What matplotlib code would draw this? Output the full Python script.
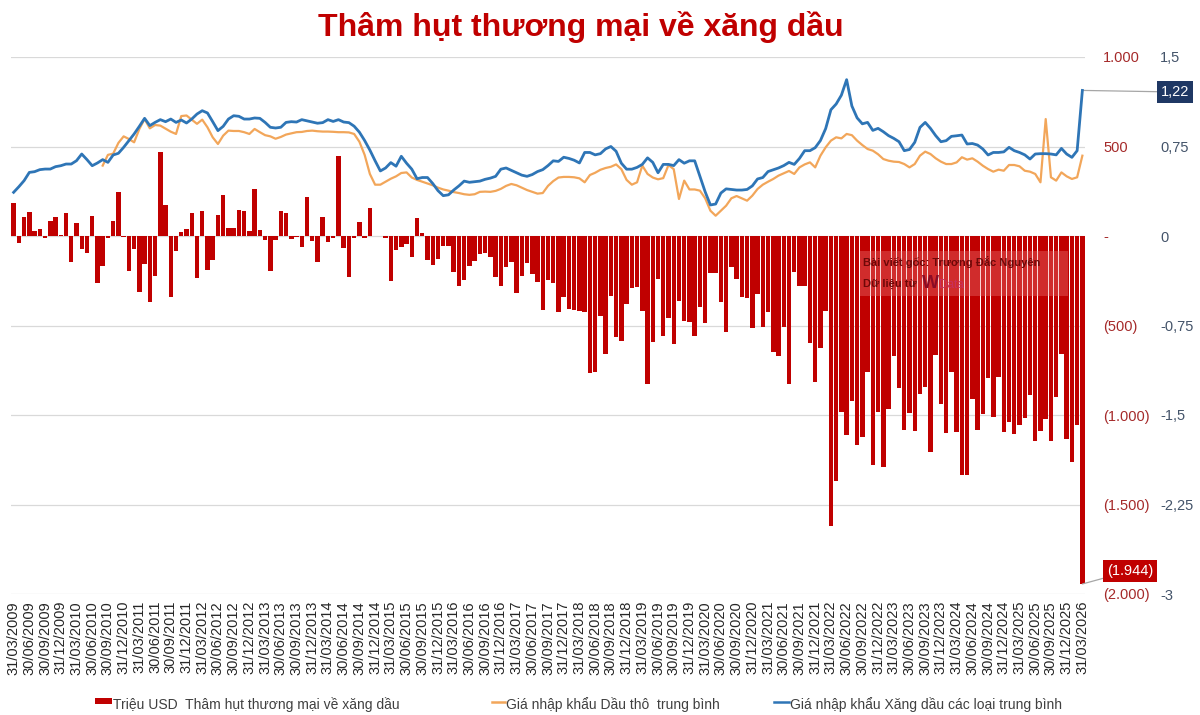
import matplotlib
matplotlib.use("Agg")
import matplotlib.pyplot as plt
import numpy as np
import pandas as pd
from matplotlib.patches import Rectangle
from matplotlib.lines import Line2D

plt.rcParams["font.family"] = ["Liberation Sans", "DejaVu Sans"]

W, H = 1200, 715

# monthly categories, 03/2009 .. 03/2026
months = pd.date_range("2009-03-31", "2026-03-31", freq="ME")

# trade deficit on petroleum, million USD (left axis)
deficit = [
    186, -37, 108, 134, 28, 37, -10, 84, 108, 3,
    127, -145, 75, -75, -93, 112, -264, -168, -9, 84,
    246, -3, -195, -73, -315, -156, -370, -222, 467, 173,
    -343, -86, 24, 37, 127, -235, 138, -190, -136, 117,
    228, 45, 45, 146, 141, 27, 265, 34, -20, -196,
    -20, 137, 130, -17, -5, -59, 220, -28, -143, 108,
    -35, -13, 446, -69, -228, -13, 78, -11, 156, 2,
    -2, -12, -253, -80, -64, -47, -119, 99, 17, -132,
    -160, -129, -58, -58, -203, -277, -248, -170, -138, -100,
    -95, -119, -231, -277, -175, -147, -316, -224, -150, -210,
    -255, -415, -245, -264, -423, -339, -408, -411, -417, -426,
    -767, -758, -449, -659, -337, -566, -588, -380, -292, -287,
    -417, -827, -594, -240, -557, -460, -603, -361, -477, -479,
    -557, -398, -488, -209, -209, -367, -534, -171, -240, -343,
    -348, -516, -324, -510, -426, -646, -668, -506, -827, -203,
    -281, -281, -600, -814, -627, -417, -1622, -1370, -985, -1112,
    -924, -1170, -1125, -762, -1279, -985, -1292, -966, -672, -851,
    -1082, -989, -1087, -883, -845, -1205, -665, -938, -1100, -758,
    -1097, -1336, -1336, -909, -1082, -994, -795, -1013, -789, -1097,
    -1041, -1106, -1056, -1019, -888, -1147, -1087, -1022, -1147, -901,
    -659, -1134, -1261, -1056, -1944,
]

# average import price of crude oil (right axis), starts 08/2010
crude = [np.nan] * 17 + [
    0.590, 0.680, 0.690,
    0.780, 0.835, 0.813, 0.785, 0.897, 0.980, 0.902, 0.930, 0.925, 0.900,
    0.874, 0.855, 1.005, 1.010, 0.975, 0.940, 0.975, 0.911, 0.827, 0.771,
    0.841, 0.883, 0.880, 0.880, 0.870, 0.855, 0.897, 0.870, 0.845, 0.835,
    0.815, 0.830, 0.850, 0.860, 0.870, 0.872, 0.880, 0.883, 0.878, 0.875,
    0.875, 0.873, 0.870, 0.870, 0.868, 0.855, 0.790, 0.680, 0.520, 0.430,
    0.430, 0.455, 0.480, 0.500, 0.528, 0.533, 0.490, 0.470, 0.455, 0.440,
    0.425, 0.405, 0.390, 0.380, 0.368, 0.360, 0.350, 0.345, 0.350, 0.370,
    0.372, 0.370, 0.378, 0.395, 0.420, 0.436, 0.425, 0.405, 0.385, 0.370,
    0.355, 0.360, 0.420, 0.460, 0.490, 0.495, 0.495, 0.492, 0.483, 0.450,
    0.511, 0.530, 0.555, 0.570, 0.580, 0.600, 0.560, 0.470, 0.430, 0.450,
    0.590, 0.520, 0.490, 0.475, 0.485, 0.595, 0.560, 0.310, 0.464, 0.390,
    0.390, 0.380, 0.316, 0.212, 0.170, 0.212, 0.254, 0.316, 0.335, 0.315,
    0.296, 0.338, 0.394, 0.430, 0.455, 0.478, 0.506, 0.525, 0.545, 0.520,
    0.575, 0.600, 0.617, 0.575, 0.673, 0.743, 0.799, 0.827, 0.818, 0.855,
    0.845, 0.799, 0.762, 0.729, 0.715, 0.685, 0.645, 0.631, 0.623, 0.620,
    0.603, 0.575, 0.603, 0.673, 0.707, 0.687, 0.651, 0.623, 0.603, 0.603,
    0.617, 0.660, 0.640, 0.651, 0.623, 0.589, 0.561, 0.539, 0.556, 0.547,
    0.595, 0.595, 0.584, 0.547, 0.539, 0.520, 0.450, 0.980, 0.492, 0.464,
    0.533, 0.500, 0.478, 0.492, 0.673,
]

# average import price of all petroleum products (right axis)
fuel = [
    0.366, 0.413, 0.464, 0.533, 0.539, 0.556, 0.561, 0.561, 0.581, 0.589,
    0.603, 0.603, 0.631, 0.687, 0.640, 0.589, 0.612, 0.640, 0.617, 0.679,
    0.693, 0.743, 0.799, 0.855, 0.919, 0.986, 0.925, 0.952, 0.975, 0.958,
    0.980, 0.952, 0.972, 0.947, 0.980, 1.022, 1.050, 1.031, 0.958, 0.883,
    0.919, 0.980, 1.008, 1.003, 0.980, 0.980, 0.989, 0.986, 0.952, 0.911,
    0.905, 0.911, 0.952, 0.958, 0.955, 0.975, 0.965, 0.955, 0.945, 0.950,
    0.975, 0.960, 0.975, 0.955, 0.950, 0.920, 0.870, 0.800, 0.720, 0.630,
    0.545, 0.570, 0.615, 0.585, 0.668, 0.610, 0.560, 0.480, 0.490, 0.490,
    0.440, 0.380, 0.338, 0.345, 0.385, 0.420, 0.460, 0.450, 0.455, 0.460,
    0.475, 0.485, 0.500, 0.560, 0.570, 0.550, 0.530, 0.510, 0.500, 0.515,
    0.540, 0.556, 0.590, 0.630, 0.625, 0.660, 0.650, 0.635, 0.612, 0.700,
    0.700, 0.680, 0.690, 0.730, 0.750, 0.710, 0.610, 0.560, 0.560, 0.575,
    0.600, 0.655, 0.617, 0.530, 0.600, 0.600, 0.590, 0.640, 0.610, 0.630,
    0.630, 0.500, 0.370, 0.260, 0.268, 0.360, 0.395, 0.390, 0.385, 0.385,
    0.390, 0.420, 0.478, 0.490, 0.540, 0.555, 0.570, 0.590, 0.617, 0.600,
    0.650, 0.715, 0.715, 0.740, 0.800, 0.900, 1.058, 1.106, 1.180, 1.310,
    1.090, 0.990, 0.940, 0.952, 0.885, 0.902, 0.874, 0.841, 0.818, 0.790,
    0.715, 0.725, 0.785, 0.910, 0.952, 0.902, 0.841, 0.790, 0.799, 0.835,
    0.840, 0.846, 0.771, 0.775, 0.762, 0.729, 0.679, 0.700, 0.700, 0.705,
    0.743, 0.715, 0.700, 0.680, 0.645, 0.687, 0.690, 0.690, 0.687, 0.680,
    0.734, 0.687, 0.659, 0.715, 1.220,
]

left_ticks = [1000, 500, 0, -500, -1000, -1500, -2000]
left_labels = ["1.000", "500", "-", "(500)", "(1.000)", "(1.500)", "(2.000)"]
right_ticks = [1.5, 0.75, 0, -0.75, -1.5, -2.25, -3]
right_labels = ["1,5", "0,75", "0", "-0,75", "-1,5", "-2,25", "-3"]

title = "Thâm hụt thương mại về xăng dầu"
legend_labels = [
    "Triệu USD  Thâm hụt thương mại về xăng dầu",
    "Giá nhập khẩu Dầu thô  trung bình",
    "Giá nhập khẩu Xăng dầu các loại trung bình",
]

RED = "#C00000"
BLUE = "#2E75B6"
ORANGE = "#F2A65A"


def fx(px):
    return px / W


def fy(py):
    return 1 - py / H


x = np.arange(len(months))

fig = plt.figure(figsize=(W / 100, H / 100), dpi=100)
ax = fig.add_axes([fx(11), fy(594), (1085 - 11) / W, (594 - 57) / H])

ax.bar(x, deficit, width=0.85, color=RED, zorder=2)
ax.set_xlim(-0.5, len(x) - 0.5)
ax.set_ylim(-2000, 1000)
ax.grid(axis="y", color="#D9D9D9", lw=0.9, zorder=0)
ax.set_axisbelow(True)

qx = x[::3]
ax.set_xticks(qx)
ax.set_xticklabels(months[::3].strftime("%d/%m/%Y"), rotation=90, fontsize=10.5, color="#262626")
ax.tick_params(axis="x", length=0, pad=5)
for s in ax.spines.values():
    s.set_visible(False)

ax2 = ax.twinx()
ax2.set_ylim(-3, 1.5)
ax2.plot(x, crude, color=ORANGE, lw=1.6, zorder=3)
ax2.plot(x, fuel, color=BLUE, lw=2.0, zorder=4)
ax2.set_yticks(right_ticks)
ax2.set_yticklabels(right_labels)
ax2.tick_params(axis="y", length=0, pad=54, labelsize=10.5, labelcolor="#44546A")
for s in ax2.spines.values():
    s.set_visible(False)

# twinx moves the first axis' ticks back to the left, so set them after it
ax.set_yticks(left_ticks)
ax.set_yticklabels(left_labels)
ax.yaxis.tick_right()
ax.tick_params(axis="y", length=0, pad=13, labelsize=10.5, labelcolor="#A52A2A")

# value callouts
ax2.annotate("1,22", xy=(x[-1], fuel[-1]), xytext=(1175, H - 92), textcoords="figure pixels",
             ha="center", va="center", color="white", fontsize=10.5, annotation_clip=False,
             bbox=dict(boxstyle="square,pad=0.25", fc="#1F3864", ec="none"),
             arrowprops=dict(arrowstyle="-", color="#A6A6A6", lw=0.9, shrinkA=0, shrinkB=0))
ax.annotate(f"({abs(deficit[-1]):,})".replace(",", "."), xy=(x[-1], deficit[-1]),
            xytext=(1130, H - 571), textcoords="figure pixels",
            ha="center", va="center", color="white", fontsize=10.5, annotation_clip=False,
            bbox=dict(boxstyle="square,pad=0.25", fc=RED, ec="none"),
            arrowprops=dict(arrowstyle="-", color="#A6A6A6", lw=0.9, shrinkA=0, shrinkB=0))

# title
fig.text(fx(581), fy(27), title, ha="center", va="center", fontsize=23,
         fontweight="bold", color=RED)

# watermark box
fig.patches.append(Rectangle((fx(860), fy(296)), 208 / W, 45 / H, transform=fig.transFigure,
                             fc="#F08080", alpha=0.35, ec="none", zorder=5))
fig.text(fx(863), fy(262), "Bài viết gốc: Trương Đắc Nguyên", fontsize=8, fontweight="bold",
         color="#6E0808", va="center", zorder=6)
fig.text(fx(863), fy(284), "Dữ liệu từ", fontsize=8, fontweight="bold",
         color="#6E0808", va="center", zorder=6)
fig.text(fx(922), fy(283), "W", fontsize=13, fontweight="bold",
         color="#8A0C26", va="center", zorder=6)
fig.text(fx(939), fy(285), "Data", fontsize=8.5, color="#C8305E", va="center", zorder=6)

# legend
ly = 704
fig.patches.append(Rectangle((fx(95), fy(ly)), 17 / W, 6 / H, transform=fig.transFigure,
                             fc=RED, ec="none"))
fig.text(fx(113), fy(ly + 1), legend_labels[0], fontsize=10, color="#404040", va="center")
fig.lines.append(Line2D([fx(492), fx(505)], [fy(ly - 2), fy(ly - 2)], transform=fig.transFigure,
                        color=ORANGE, lw=1.8))
fig.text(fx(506), fy(ly + 1), legend_labels[1], fontsize=10, color="#404040", va="center")
fig.lines.append(Line2D([fx(774), fx(789)], [fy(ly - 2), fy(ly - 2)], transform=fig.transFigure,
                        color=BLUE, lw=1.8))
fig.text(fx(790), fy(ly + 1), legend_labels[2], fontsize=10, color="#404040", va="center")

fig.savefig("out.png", dpi=100)
